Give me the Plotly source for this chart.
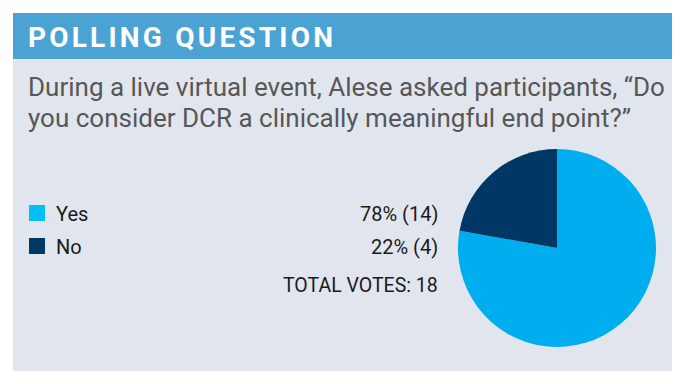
import plotly.graph_objects as go

W, H = 684, 384
OFF = 8  # page body margin of the html page

title_text = "POLLING QUESTION"
question_lines = [
    "During a live virtual event, Alese asked participants, \u201cDo",
    "you consider DCR a clinically meaningful end point?\u201d",
]
labels = ["Yes", "No"]
votes = [14, 4]
percents = [78, 22]
colors = ["#00AEEF", "#003764"]
total_votes = sum(votes)


def px(x):
    return (x - OFF) / W


def py(y):
    return 1 - (y - OFF) / H


fig = go.Figure()

fig.add_trace(go.Pie(
    labels=labels,
    values=votes,
    sort=False,
    direction="clockwise",
    rotation=0,
    marker=dict(colors=colors, line=dict(width=0)),
    textinfo="none",
    hoverinfo="label+value+percent",
    showlegend=False,
    domain=dict(x=[px(458), px(656)], y=[py(347), py(149)]),
))

shapes = [
    dict(type="rect", xref="paper", yref="paper", x0=px(13), x1=px(672), y0=py(371), y1=py(13),
         fillcolor="#E1E6EE", line=dict(width=0), layer="below"),
    dict(type="rect", xref="paper", yref="paper", x0=px(13), x1=px(672), y0=py(59), y1=py(13),
         fillcolor="#4BA3D3", line=dict(width=0), layer="below"),
]

legend_y = [213, 246]
for i, lab in enumerate(labels):
    shapes.append(dict(type="rect", xref="paper", yref="paper",
                       x0=px(29), x1=px(45), y0=py(legend_y[i] + 8), y1=py(legend_y[i] - 8),
                       fillcolor=colors[i] if i else "#00BFF3", line=dict(width=0)))

annotations = [
    dict(text="<span style='letter-spacing:3.2px'><b>" + title_text + "</b></span>",
         x=px(26), y=py(37), xanchor="left", yanchor="middle", showarrow=False,
         font=dict(family="Roboto", size=28, color="white")),
]
for j, line in enumerate(question_lines):
    annotations.append(dict(text=line, x=px(26), y=py(87 + 31 * j), xanchor="left", yanchor="middle",
                            showarrow=False, font=dict(family="Roboto", size=26, color="#575757")))
for i, lab in enumerate(labels):
    annotations.append(dict(text=lab, x=px(54), y=py(legend_y[i] + 1), xanchor="left", yanchor="middle",
                            showarrow=False, font=dict(family="Roboto", size=20, color="#1a1a1a")))
    annotations.append(dict(text=f"{percents[i]}% ({votes[i]})", x=px(440), y=py(legend_y[i] + 1),
                            xanchor="right", yanchor="middle", showarrow=False,
                            font=dict(family="Roboto", size=20, color="#1a1a1a")))
annotations.append(dict(text=f"TOTAL VOTES: {total_votes}", x=px(440), y=py(285), xanchor="right",
                        yanchor="middle", showarrow=False,
                        font=dict(family="Roboto", size=19.5, color="#1a1a1a")))

fig.update_layout(
    width=W, height=H,
    margin=dict(l=0, r=0, t=0, b=0),
    paper_bgcolor="white",
    plot_bgcolor="white",
    shapes=shapes,
    annotations=annotations,
)

fig.write_html("out.html")
